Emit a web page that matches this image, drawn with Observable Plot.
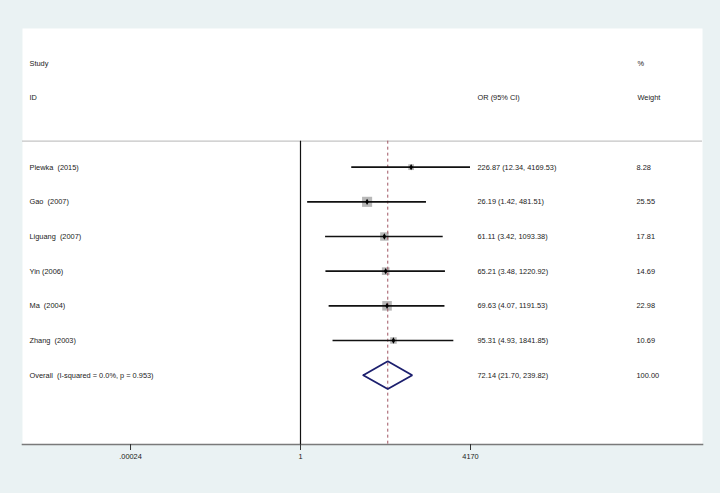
<!DOCTYPE html>
<html>
<head>
<meta charset="utf-8">
<script src="https://cdn.jsdelivr.net/npm/d3@7"></script>
<script src="https://cdn.jsdelivr.net/npm/@observablehq/plot@0.6"></script>
<style>
  html, body { margin: 0; padding: 0; background: #eaf2f3; }
  svg text { white-space: pre; }
</style>
</head>
<body>
<div id="chart"></div>
<script>
// ---- data ----
const studyLabels = ["Plewka  (2015)", "Gao  (2007)", "Liguang  (2007)", "Yin (2006)", "Ma  (2004)", "Zhang  (2003)"];
const orValues = [226.87, 26.19, 61.11, 65.21, 69.63, 95.31];
const ciLow = [12.34, 1.42, 3.42, 3.48, 4.07, 4.93];
const ciHigh = [4169.53, 481.51, 1093.38, 1220.92, 1191.53, 1841.85];
const weights = [8.28, 25.55, 17.81, 14.69, 22.98, 10.69];

const overallLabel = "Overall  (I-squared = 0.0%, p = 0.953)";
const overallOR = 72.14;
const overallLow = 21.70;
const overallHigh = 239.82;
const overallWeight = 100.00;

const tickValues = [0.00024, 1, 4170];
const tickLabels = [".00024", "1", "4170"];

const headerTop = ["Study", "%"];
const headerBottom = ["ID", "OR (95% CI)", "Weight"];

// ---- layout (rows) ----
const studies = studyLabels.map((label, i) => ({
  label, row: i, or: orValues[i], lo: ciLow[i], hi: ciHigh[i], w: weights[i],
  ci: `${orValues[i].toFixed(2)} (${ciLow[i].toFixed(2)}, ${ciHigh[i].toFixed(2)})`,
  wt: weights[i].toFixed(2)
}));
const overallRow = studies.length;
const overall = [{
  label: overallLabel, row: overallRow, or: overallOR, lo: overallLow, hi: overallHigh,
  ci: `${overallOR.toFixed(2)} (${overallLow.toFixed(2)}, ${overallHigh.toFixed(2)})`,
  wt: overallWeight.toFixed(2)
}];
const allRows = studies.concat(overall);
const diamondHalf = 0.4;
const diamond = [
  {x: overallLow, y: overallRow},
  {x: overallOR, y: overallRow - diamondHalf},
  {x: overallHigh, y: overallRow},
  {x: overallOR, y: overallRow + diamondHalf},
  {x: overallLow, y: overallRow}
];
const rowStudyHdr = -3, rowIdHdr = -2, rowRule = -0.75, rowBottom = 8, rowTop = -4;
const ticks = tickValues.map((v, i) => ({v, label: tickLabels[i]}));

const font = 7.4;
const txt = "#1a1a1a";

const chart = Plot.plot({
  width: 720,
  height: 493,
  marginLeft: 22,
  marginRight: 18,
  marginTop: 28,
  marginBottom: 49,
  style: {background: "transparent", fontFamily: "'Liberation Sans', Arial, sans-serif", overflow: "visible"},
  x: {type: "log", domain: [1 / 4170, 4170], range: [130, 470]},
  y: {domain: [rowTop, rowBottom], reverse: true, axis: null},
  r: {type: "sqrt", domain: [0, 100], range: [0, 11.28]},
  marks: [
    Plot.frame({fill: "white", stroke: null}),
    Plot.ruleY([rowRule], {stroke: "#c4c4c4", strokeWidth: 1.2}),
    Plot.frame({anchor: "bottom", stroke: "#7a7a7a", strokeWidth: 1.6}),
    Plot.axisX({ticks: tickValues, tickSize: 6, text: null, label: null, stroke: "#333"}),
    Plot.text(ticks, {x: "v", text: "label", frameAnchor: "bottom", dy: 14, fontSize: font, fill: txt}),
    Plot.ruleX([1], {y1: rowRule, y2: rowBottom, stroke: "#111", strokeWidth: 1.2}),
    Plot.dot(studies, {x: "or", y: "row", r: "w", symbol: "square", fill: "#b8b8b8", stroke: null}),
    Plot.ruleX([overallOR], {y1: rowRule, y2: rowBottom, stroke: "#a05462", strokeWidth: 1, strokeDasharray: "3,3"}),
    Plot.ruleY(studies, {y: "row", x1: "lo", x2: "hi", stroke: "#111", strokeWidth: 1.6}),
    Plot.dot(studies, {x: "or", y: "row", r: 1.9, symbol: "diamond", fill: "#000", stroke: null}),
    Plot.line(diamond, {x: "x", y: "y", stroke: "#1c1f6e", strokeWidth: 1.8, strokeLinejoin: "miter"}),
    // headers
    Plot.text([headerTop[0]], {frameAnchor: "left", dx: 7, y: () => rowStudyHdr, text: d => d, textAnchor: "start", fontSize: font, fill: txt}),
    Plot.text([headerBottom[0]], {frameAnchor: "left", dx: 7, y: () => rowIdHdr, text: d => d, textAnchor: "start", fontSize: font, fill: txt}),
    Plot.text([headerBottom[1]], {frameAnchor: "left", dx: 455, y: () => rowIdHdr, text: d => d, textAnchor: "start", fontSize: font, fill: txt}),
    Plot.text([headerTop[1]], {frameAnchor: "left", dx: 615, y: () => rowStudyHdr, text: d => d, textAnchor: "start", fontSize: font, fill: txt}),
    Plot.text([headerBottom[2]], {frameAnchor: "left", dx: 615, y: () => rowIdHdr, text: d => d, textAnchor: "start", fontSize: font, fill: txt}),
    // row texts
    Plot.text(allRows, {frameAnchor: "left", dx: 7, y: "row", text: "label", textAnchor: "start", fontSize: font, fill: txt}),
    Plot.text(allRows, {frameAnchor: "left", dx: 455, y: "row", text: "ci", textAnchor: "start", fontSize: font, fill: txt}),
    Plot.text(allRows, {frameAnchor: "left", dx: 614, y: "row", text: "wt", textAnchor: "start", fontSize: font, fill: txt})
  ]
});
document.getElementById("chart").appendChild(chart);
</script>
</body>
</html>
